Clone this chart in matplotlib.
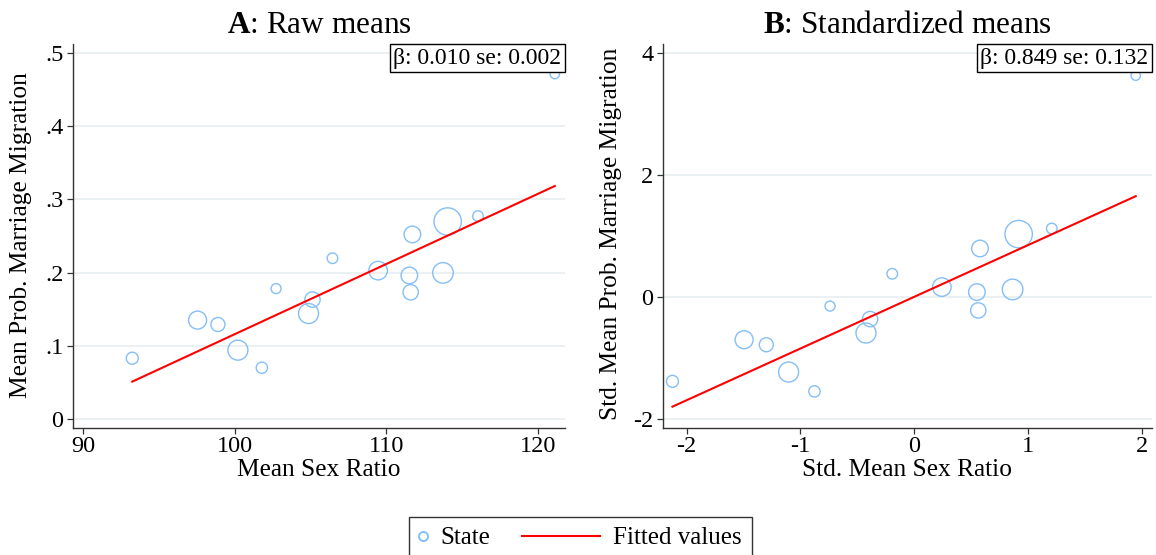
import matplotlib
matplotlib.use("Agg")
import matplotlib.pyplot as plt
import numpy as np
from matplotlib.lines import Line2D
from matplotlib.legend_handler import HandlerBase
from matplotlib.offsetbox import AnchoredText

# ---------------- data ----------------
sexratio_raw = [93.25, 97.56, 98.90, 100.22, 101.80, 102.74, 105.14, 104.88, 106.46,
                109.47, 111.53, 111.73, 111.62, 113.75, 114.06, 116.06, 121.13]
migr_raw = [0.083, 0.135, 0.129, 0.094, 0.070, 0.178, 0.163, 0.144, 0.2195,
            0.2026, 0.196, 0.252, 0.173, 0.1995, 0.2696, 0.277, 0.471]
sexratio_std = [-2.125, -1.495, -1.300, -1.104, -0.877, -0.740, -0.388, -0.424, -0.193,
                0.243, 0.551, 0.578, 0.563, 0.865, 0.918, 1.209, 1.947]
migr_std = [-1.383, -0.700, -0.782, -1.230, -1.547, -0.148, -0.361, -0.590, 0.382,
            0.164, 0.082, 0.797, -0.219, 0.125, 1.033, 1.125, 3.633]
state_weight = [36, 81, 49, 100, 32, 25, 59, 100, 28, 86, 69, 69, 59, 106, 188, 28, 22]

fit_raw = (-0.8423, 0.00958)    # intercept, slope
fit_std = (0.004, 0.848)

beta_text_raw = "β: 0.010 se: 0.002"
beta_text_std = "β: 0.849 se: 0.132"

yticks_raw = [0, 0.1, 0.2, 0.3, 0.4, 0.5]
ytick_labels_raw = ["0", ".1", ".2", ".3", ".4", ".5"]
xticks_raw = [90, 100, 110, 120]
yticks_std = [-2, 0, 2, 4]
xticks_std = [-2, -1, 0, 1, 2]

# ---------------- style ----------------
plt.rcParams['font.family'] = ['Liberation Serif', 'DejaVu Serif']
plt.rcParams['mathtext.fontset'] = 'custom'
plt.rcParams['mathtext.rm'] = 'Liberation Serif'
plt.rcParams['mathtext.bf'] = 'Liberation Serif:bold'
plt.rcParams['axes.unicode_minus'] = False

MARKER_EC = '#85bff5'
FIT_C = '#ff0000'
GRID_C = '#e6eef0'
SPINE_C = '#333333'
TICK_FS = 17.5
LABEL_FS = 18.3
TITLE_FS = 22.5
BOX_FS = 17
LEG_FS = 18

W, H = 1156, 555
fig = plt.figure(figsize=(W / 100, H / 100), dpi=100)

def ax_rect(l, r, t, b):
    return [l / W, (H - b) / H, (r - l) / W, (b - t) / H]

axA = fig.add_axes(ax_rect(73, 565, 44, 428))
axB = fig.add_axes(ax_rect(663, 1152, 44, 428))

def style(ax):
    for s in ['top', 'right']:
        ax.spines[s].set_visible(False)
    for s in ['left', 'bottom']:
        ax.spines[s].set_color(SPINE_C)
        ax.spines[s].set_linewidth(1.0)
    ax.tick_params(axis='both', direction='out', length=4.5, width=0.9,
                   colors=SPINE_C, labelcolor='black', labelsize=TICK_FS)
    ax.tick_params(axis='x', pad=1.5)
    ax.tick_params(axis='y', pad=2.5)
    ax.yaxis.grid(True, color=GRID_C, linewidth=1.1)
    ax.xaxis.grid(False)
    ax.set_axisbelow(True)

def panel(ax, x, y, fit, xticks, yticks, ylabels, xlim, ylim, title, xlabel, ylabel, btxt, ylab_y):
    style(ax)
    x = np.asarray(x); y = np.asarray(y)
    s = 2.07 * np.asarray(state_weight)
    ax.scatter(x, y, s=s, facecolors='none', edgecolors=MARKER_EC, linewidths=1.0,
               zorder=3, clip_on=False)
    xs = np.array([x.min(), x.max()])
    ax.plot(xs, fit[0] + fit[1] * xs, color=FIT_C, linewidth=1.5, zorder=4)
    ax.set_xlim(*xlim)
    ax.set_ylim(*ylim)
    ax.set_xticks(xticks)
    ax.set_yticks(yticks)
    if ylabels is not None:
        ax.set_yticklabels(ylabels)
    ax.set_title(title, fontsize=TITLE_FS, pad=8)
    ax.set_xlabel(xlabel, fontsize=LABEL_FS, labelpad=1.0)
    ax.set_ylabel(ylabel, fontsize=LABEL_FS)
    ax.yaxis.set_label_coords(-0.083, ylab_y)
    at = AnchoredText(btxt, loc='upper right', borderpad=0.0, pad=0.15,
                      prop=dict(size=BOX_FS), frameon=True)
    at.patch.set_boxstyle('square,pad=0')
    at.patch.set_edgecolor('black')
    at.patch.set_linewidth(1.0)
    ax.add_artist(at)

panel(axA, sexratio_raw, migr_raw, fit_raw, xticks_raw, yticks_raw, ytick_labels_raw,
      (89.34, 121.8), (-0.0123, 0.512), r"$\mathbf{A}$: Raw means",
      "Mean Sex Ratio", "Mean Prob. Marriage Migration", beta_text_raw, 0.503)
panel(axB, sexratio_std, migr_std, fit_std, xticks_std, yticks_std, None,
      (-2.208, 2.09), (-2.148, 4.152), r"$\mathbf{B}$: Standardized means",
      "Std. Mean Sex Ratio", "Std. Mean Prob. Marriage Migration", beta_text_std, 0.506)

# ---------------- legend ----------------
class ExtendedLineHandler(HandlerBase):
    def __init__(self, ext, **kw):
        super().__init__(**kw)
        self.ext = ext

    def create_artists(self, legend, orig_handle, xdescent, ydescent, width, height,
                       fontsize, trans):
        yc = height / 2.0 - ydescent
        ln = Line2D([-xdescent - self.ext * fontsize, -xdescent + width],
                    [yc, yc], color=orig_handle.get_color(),
                    linewidth=orig_handle.get_linewidth())
        ln.set_transform(trans)
        return [ln]

h_state = Line2D([], [], linestyle='none', marker='o', markersize=6.5,
                 markerfacecolor='none', markeredgecolor=MARKER_EC, markeredgewidth=1.4)
h_fit = Line2D([], [], color=FIT_C, linewidth=1.5)
leg = fig.legend([h_state, h_fit], ["State", "Fitted values"],
                 loc='upper center', bbox_to_anchor=(580.5 / W, (H - 517) / H),
                 ncol=2, fontsize=LEG_FS, frameon=True, fancybox=False,
                 edgecolor='black', handlelength=0.3, handletextpad=0.54,
                 columnspacing=4.1, borderpad=0.4, borderaxespad=0.0,
                 handler_map={h_fit: ExtendedLineHandler(2.8)})
leg.get_frame().set_linewidth(1.0)

fig.savefig("out.png", dpi=100, facecolor='white')
